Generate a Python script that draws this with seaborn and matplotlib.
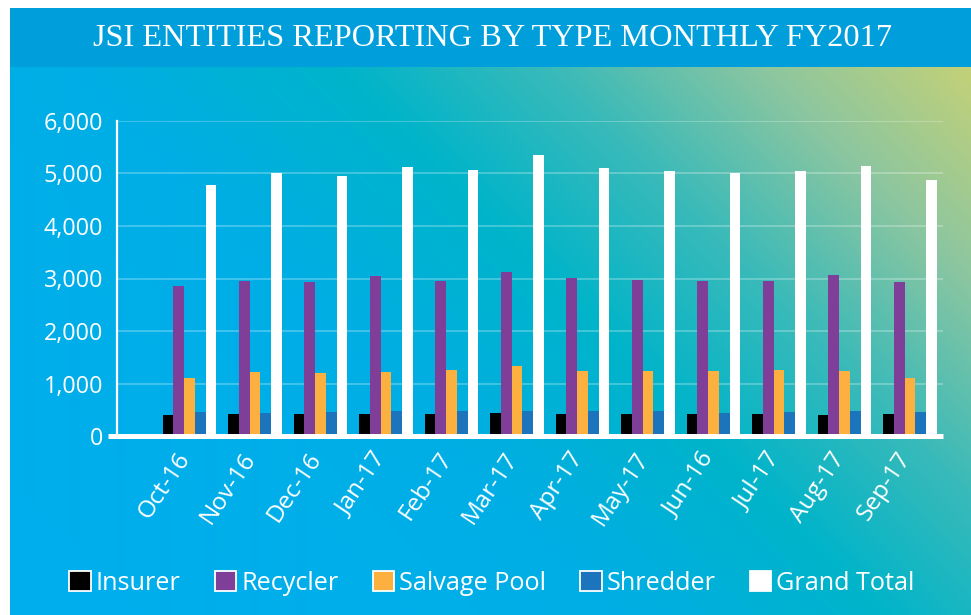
import numpy as np
import pandas as pd
import matplotlib
matplotlib.use("Agg")
import matplotlib.pyplot as plt
import seaborn as sns
from matplotlib.patches import Rectangle, Patch
from matplotlib.colors import to_rgb
from matplotlib.transforms import ScaledTranslation
from matplotlib.ticker import FuncFormatter

# ---------------- data ----------------
months = ["Oct-16", "Nov-16", "Dec-16", "Jan-17", "Feb-17", "Mar-17",
          "Apr-17", "May-17", "Jun-16", "Jul-17", "Aug-17", "Sep-17"]
insurer = [412, 418, 418, 431, 418, 437, 424, 424, 418, 431, 406, 418]
recycler = [2857, 2960, 2934, 3042, 2947, 3118, 3004, 2966, 2960, 2947, 3067, 2941]
salvage_pool = [1108, 1230, 1198, 1223, 1267, 1343, 1236, 1236, 1249, 1255, 1242, 1103]
shredder = [456, 450, 456, 488, 475, 488, 488, 475, 437, 462, 475, 468]
grand_total = [4785, 5000, 4956, 5120, 5063, 5342, 5095, 5038, 5000, 5044, 5133, 4867]
series_names = ["Insurer", "Recycler", "Salvage Pool", "Shredder", "Grand Total"]
series_colors = ["#000000", "#7F3F98", "#FBB040", "#1C75BC", "#FFFFFF"]
y_ticks = [0, 1000, 2000, 3000, 4000, 5000, 6000]
title = "JSI ENTITIES REPORTING BY TYPE MONTHLY FY2017"

df = pd.DataFrame({
    "Month": months * 5,
    "Type": sum([[n] * len(months) for n in series_names], []),
    "Value": insurer + recycler + salvage_pool + shredder + grand_total,
})

# ---------------- figure ----------------
W, H = 971, 615
sns.set_theme(style="white")
plt.rcParams["font.family"] = ["Open Sans", "DejaVu Sans"]
fig = plt.figure(figsize=(W / 100, H / 100), dpi=100)
fig.patch.set_facecolor("white")

def fx(px):
    return px / W

def fy(py):
    return 1 - py / H

# gradient background (below title bar)
gx0, gy0, gx1, gy1 = 10, 67, 971, 615
gw, gh = gx1 - gx0, gy1 - gy0
bg = fig.add_axes([fx(gx0), fy(gy1), gw / W, gh / H], zorder=0)
xs = np.linspace(0, 1, gw)
ys = np.linspace(1, 0, gh)
XX, YY = np.meshgrid(xs, ys)
t = 0.64 * XX + 0.36 * YY
stops = [0.0, 0.40, 0.58, 0.72, 0.86, 1.0]
cols = ["#00AEEF", "#00AEE6", "#00B4CA", "#3ABAB9", "#8CC6A0", "#C4D177"]
rgb = np.array([to_rgb(c) for c in cols])
img = np.dstack([np.interp(t, stops, rgb[:, k]) for k in range(3)])
bg.imshow(img, aspect="auto", extent=[0, 1, 0, 1], interpolation="bilinear")
bg.set_axis_off()

# title bar
fig.patches.append(Rectangle((fx(10), fy(67)), (W - 10) / W, 59 / H,
                             transform=fig.transFigure, facecolor="#009FDB",
                             edgecolor="none", zorder=1))
fig.text(fx(492), fy(39), title, color="white", ha="center", va="center",
         fontsize=23.3, family=["Liberation Serif", "DejaVu Serif"], zorder=3)

# main axes
ax_left, ax_right = 117, 943
ax_top, ax_bot = 120.7, 436.3
ax = fig.add_axes([fx(ax_left), fy(ax_bot), (ax_right - ax_left) / W,
                   (ax_bot - ax_top) / H], zorder=2)
ax.set_facecolor("none")

sns.barplot(data=df, x="Month", y="Value", hue="Type", order=months,
            hue_order=series_names, palette=series_colors, width=0.82,
            saturation=1, ax=ax, legend=False, zorder=3, linewidth=0)

# limits: category 0 center at x=189.5px, pitch 65.5px
pitch = 65.5
ax.set_xlim((ax_left - 189.5) / pitch, (ax_right - 189.5) / pitch)
ax.set_ylim(0, 6000)

ax.set_yticks(y_ticks)
ax.yaxis.set_major_formatter(FuncFormatter(lambda v, p: f"{int(v):,}"))
ax.grid(axis="y", color="white", alpha=0.3, linewidth=1.2, zorder=1)
ax.grid(axis="x", visible=False)
ax.set_axisbelow(True)

for s in ["top", "right", "bottom"]:
    ax.spines[s].set_visible(False)
ax.spines["left"].set_color("white")
ax.spines["left"].set_linewidth(1.6)
ax.spines["left"].set_zorder(5)

# baseline (x axis), extends slightly left of y axis
ax.plot([-9 / (ax_right - ax_left), 1], [0, 0], color="white", lw=3.6,
        transform=ax.get_yaxis_transform(), clip_on=False, zorder=6,
        solid_capstyle="butt")

ax.tick_params(axis="y", length=0, pad=10, labelsize=16.8, labelcolor="white")
ax.tick_params(axis="x", length=0, pad=13, labelsize=17.5, labelcolor="white")
ax.set_xlabel("")
ax.set_ylabel("")
for lbl in ax.get_xticklabels():
    lbl.set_rotation(56)
    lbl.set_ha("right")
    lbl.set_va("center")
    lbl.set_rotation_mode("anchor")
    lbl.set_transform(lbl.get_transform() +
                      ScaledTranslation(-4 / 100, 0, fig.dpi_scale_trans))

# legend
handles = [Patch(facecolor=c, edgecolor="white", linewidth=1.3, label=n)
           for n, c in zip(series_names, series_colors)]
leg = fig.legend(handles=handles, loc="center", bbox_to_anchor=(fx(492), fy(583)),
                 ncol=5, frameon=False, fontsize=18.2, handlelength=0.85,
                 handleheight=0.85, handletextpad=0.2, columnspacing=1.35)
for tx in leg.get_texts():
    tx.set_color("white")

fig.savefig("out.png", dpi=100, facecolor=fig.get_facecolor())
